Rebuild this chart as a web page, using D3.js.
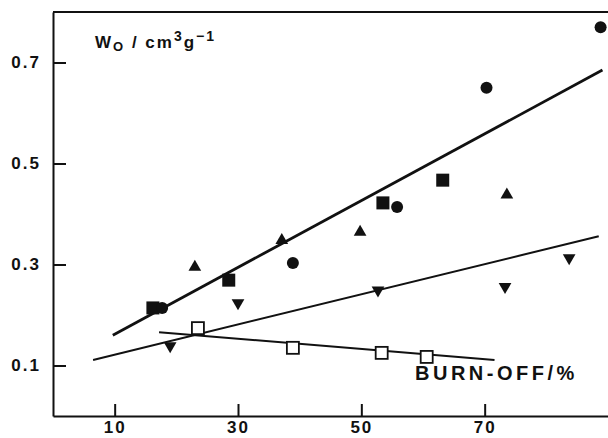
<!DOCTYPE html>
<html lang="en">
<head>
<meta charset="utf-8">
<title>Wo vs burn-off</title>
<script src="https://cdn.jsdelivr.net/npm/d3@7/dist/d3.min.js"></script>
<style>
    body { margin: 0; background: #fff; }
    .axis path, .axis line { stroke: #111; stroke-width: 2; fill: none; }
    .axis text { font: bold 17px "Liberation Sans", Arial, sans-serif; letter-spacing: 2px; fill: #111; }
    .lbl { font-family: "Liberation Sans", Arial, sans-serif; fill: #111; }
</style>
</head>
<body>
<svg width="608" height="438"></svg>
<script>
// values (burn-off %, Wo cm3/g)
var circleX = [17.7, 38.9, 55.8, 70.3, 88.8];
var circleY = [0.214, 0.303, 0.414, 0.650, 0.770];
var squareX = [16.2, 28.5, 53.5, 63.2];
var squareY = [0.214, 0.269, 0.422, 0.467];
var triUpX = [23.0, 37.1, 49.8, 73.6];
var triUpY = [0.295, 0.348, 0.364, 0.438];
var triDownX = [19.0, 30.0, 52.7, 73.3, 83.7];
var triDownY = [0.139, 0.224, 0.249, 0.256, 0.313];
var openSqX = [23.5, 38.9, 53.3, 60.6];
var openSqY = [0.174, 0.135, 0.125, 0.117];

// drawn straight lines (end points)
var lineA = { x: [9.7, 89.1], y: [0.160, 0.685] };
var lineB = { x: [6.5, 88.5], y: [0.111, 0.356] };
var lineC = { x: [17.2, 71.6], y: [0.166, 0.111] };

var xTicks = [10, 30, 50, 70];
var yTicks = [0.1, 0.3, 0.5, 0.7];

var svg = d3.select("svg");
var x = d3.scaleLinear().domain([0, 90]).range([53, 608]);
var y = d3.scaleLinear().domain([0, 0.8]).range([416, 12]);

function pts(xs, ys) { return xs.map(function(v, i) { return [v, ys[i]]; }); }

// frame: top border
svg.append("line")
  .attr("x1", x(0)).attr("x2", x(90))
  .attr("y1", y(0.8)).attr("y2", y(0.8))
  .attr("stroke", "#111").attr("stroke-width", 2);

svg.append("g")
  .attr("class", "axis")
  .attr("transform", "translate(" + x(0) + ",0)")
  .call(d3.axisLeft(y).tickValues(yTicks).tickFormat(d3.format(".1f"))
        .tickSizeInner(-13).tickSizeOuter(0).tickPadding(12));

svg.append("g")
  .attr("class", "axis")
  .attr("transform", "translate(0," + y(0) + ")")
  .call(d3.axisBottom(x).tickValues(xTicks)
        .tickSizeInner(-12).tickSizeOuter(0).tickPadding(5));

var line = d3.line().x(function(d) { return x(d[0]); }).y(function(d) { return y(d[1]); });

svg.append("path").attr("d", line(pts(lineA.x, lineA.y)))
  .attr("stroke", "#111").attr("stroke-width", 2.8).attr("fill", "none");
svg.append("path").attr("d", line(pts(lineB.x, lineB.y)))
  .attr("stroke", "#111").attr("stroke-width", 2).attr("fill", "none");
svg.append("path").attr("d", line(pts(lineC.x, lineC.y)))
  .attr("stroke", "#111").attr("stroke-width", 2).attr("fill", "none");

svg.selectAll(".sq")
  .data(pts(squareX, squareY))
  .enter().append("rect")
  .attr("x", function(d) { return x(d[0]) - 6.5; })
  .attr("y", function(d) { return y(d[1]) - 6.5; })
  .attr("width", 13).attr("height", 13)
  .attr("fill", "#111");

svg.selectAll(".dot")
  .data(pts(circleX, circleY))
  .enter().append("circle")
  .attr("cx", function(d) { return x(d[0]); })
  .attr("cy", function(d) { return y(d[1]); })
  .attr("r", 6)
  .attr("fill", "#111");

var tri = d3.symbol().type(d3.symbolTriangle).size(70);

svg.selectAll(".up")
  .data(pts(triUpX, triUpY))
  .enter().append("path")
  .attr("d", tri)
  .attr("transform", function(d) { return "translate(" + x(d[0]) + "," + y(d[1]) + ")"; })
  .attr("fill", "#111");

svg.selectAll(".down")
  .data(pts(triDownX, triDownY))
  .enter().append("path")
  .attr("d", tri)
  .attr("transform", function(d) { return "translate(" + x(d[0]) + "," + y(d[1]) + ") rotate(180)"; })
  .attr("fill", "#111");

svg.selectAll(".open")
  .data(pts(openSqX, openSqY))
  .enter().append("rect")
  .attr("x", function(d) { return x(d[0]) - 6; })
  .attr("y", function(d) { return y(d[1]) - 6; })
  .attr("width", 12).attr("height", 12)
  .attr("fill", "#fff").attr("stroke", "#111").attr("stroke-width", 1.8);

// axis titles
var t = svg.append("text").attr("class", "lbl").attr("x", 95).attr("y", 48)
  .attr("font-size", 17).attr("font-weight", "bold").attr("letter-spacing", 2);
t.append("tspan").text("W");
t.append("tspan").attr("dy", 3).attr("font-size", 13).text("O");
t.append("tspan").attr("dy", -3).text(" / cm");
t.append("tspan").attr("dy", -7).attr("font-size", 14).text("3");
t.append("tspan").attr("dy", 7).text("g");
t.append("tspan").attr("dy", -7).attr("font-size", 14).text("\u22121");

svg.append("text").attr("class", "lbl").attr("x", 415).attr("y", 380)
  .attr("font-size", 20).attr("font-weight", "bold").attr("letter-spacing", 3.5)
  .text("BURN-OFF/%");
</script>
</body>
</html>
